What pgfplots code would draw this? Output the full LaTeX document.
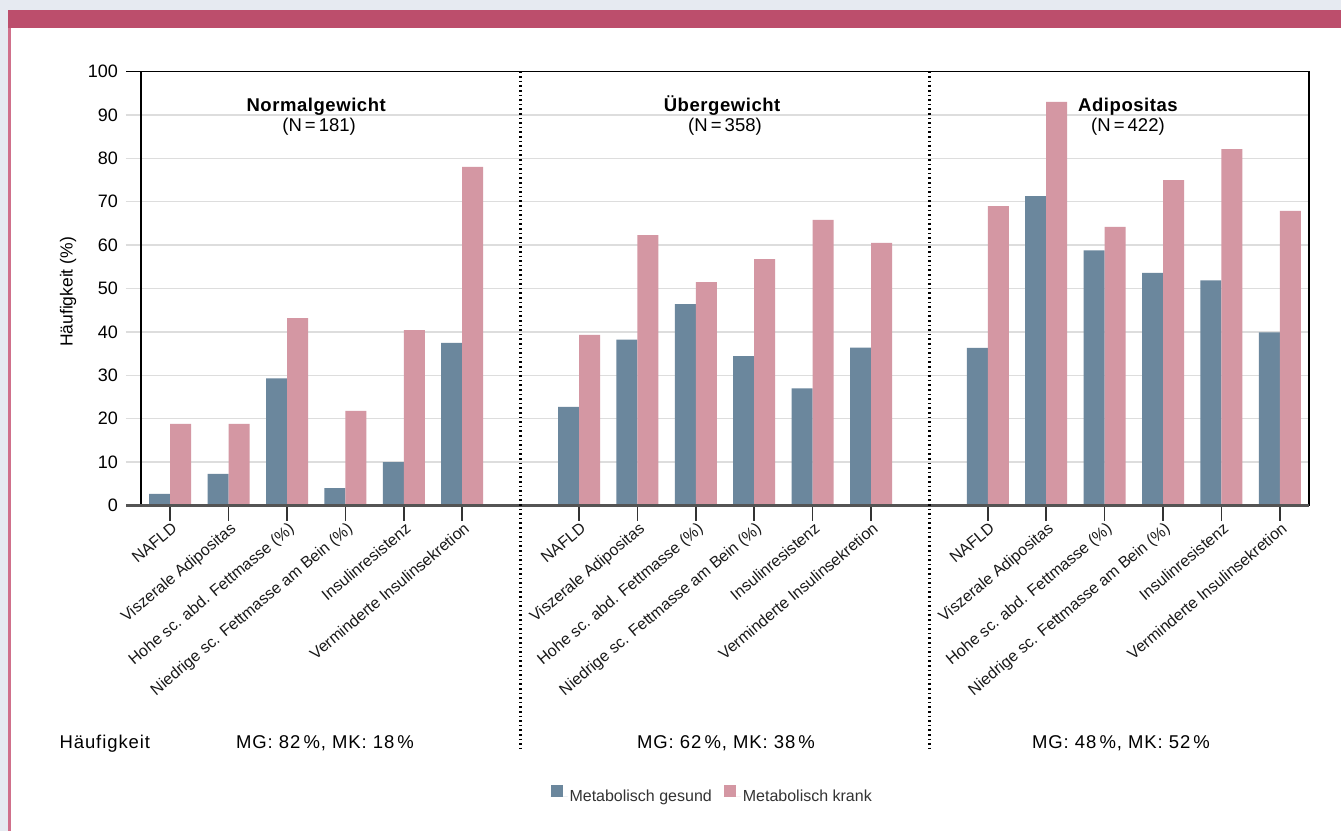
\documentclass[border=0pt]{standalone}
\usepackage{fontspec}
\setmainfont{Liberation Sans}
\newfontfamily\tracked[LetterSpace=3]{Liberation Sans}
\newfontfamily\trackedb[LetterSpace=5]{Liberation Sans}
\usepackage{pgfplots}
\pgfplotsset{compat=1.18}
\definecolor{bgc}{HTML}{E6EAF1}
\definecolor{mag}{HTML}{BC4E6C}
\definecolor{pline}{HTML}{D0708B}
\definecolor{mgblue}{HTML}{6B879D}
\definecolor{mkpink}{HTML}{D497A3}
\definecolor{gridc}{HTML}{DDDDDD}
\begin{document}
\begin{tikzpicture}
\useasboundingbox (0,0) rectangle (1341pt,-831pt);
\fill[bgc] (0,0) rectangle (1341pt,-831pt);
\fill[white] (11pt,-28pt) rectangle (1341pt,-831pt);
\fill[mag] (8pt,-10pt) rectangle (1341pt,-28pt);
\fill[pline] (8pt,-28pt) rectangle (11pt,-831pt);
\begin{axis}[
  at={(141pt,-505.5pt)}, anchor=south west,
  scale only axis, width=1168pt, height=434pt,
  xmin=-0.5, xmax=19.5, ymin=0, ymax=100,
  clip=false,
  ytick={0,10,...,100},
  xtick={0,1,2,3,4,5,7,8,9,10,11,12,14,15,16,17,18,19},
  xticklabels={NAFLD, Viszerale Adipositas, Hohe sc. abd. Fettmasse (\%), Niedrige sc. Fettmasse am Bein (\%), Insulinresistenz, Verminderte Insulinsekretion,
               NAFLD, Viszerale Adipositas, Hohe sc. abd. Fettmasse (\%), Niedrige sc. Fettmasse am Bein (\%), Insulinresistenz, Verminderte Insulinsekretion,
               NAFLD, Viszerale Adipositas, Hohe sc. abd. Fettmasse (\%), Niedrige sc. Fettmasse am Bein (\%), Insulinresistenz, Verminderte Insulinsekretion},
  tick align=outside, major tick length=15pt,
  xtick pos=bottom, ytick pos=left,
  ymajorgrids, grid style={gridc, line width=1.5pt},
  axis line style={black, line width=1.5pt},
  xtick style={color=black!80, line width=1.5pt},
  ytick style={color=gridc, line width=1.5pt},
  /pgf/number format/assume math mode=true,
  yticklabel style={font=\fontsize{18}{21}\selectfont, inner sep=0pt, anchor=east, xshift=-8pt},
  xticklabel style={font=\fontsize{16}{19}\selectfont, color=black!90, inner sep=0pt, rotate=40, anchor=north east, xshift=0pt, yshift=-1pt},
  legend style={at={(axis description cs:0.489,-0.667)}, anchor=center, draw=none, fill=none,
    legend columns=2, font=\fontsize{16}{19}\selectfont, text=black!80,
    /tikz/every even column/.append style={column sep=10pt}},
  legend image code/.code={\path (0pt,0pt) -- (17pt,0pt); \fill[#1] (0pt,-0.5pt) rectangle (12.5pt,12pt);},
]
\addplot[ybar, bar width=21pt, bar shift=-10.5pt, fill=mgblue, draw=none] coordinates {
 (0,2.7) (1,7.3) (2,29.3) (3,4.0) (4,10.0) (5,37.5)
 (7,22.7) (8,38.2) (9,46.4) (10,34.4) (11,27.0) (12,36.4)
 (14,36.3) (15,71.3) (16,58.8) (17,53.6) (18,51.9) (19,39.9)};
\addlegendentry{Metabolisch gesund}
\addplot[ybar, bar width=21pt, bar shift=10.5pt, fill=mkpink, draw=none] coordinates {
 (0,18.8) (1,18.8) (2,43.2) (3,21.8) (4,40.4) (5,78.0)
 (7,39.3) (8,62.3) (9,51.5) (10,56.8) (11,65.8) (12,60.5)
 (14,69.0) (15,93.0) (16,64.2) (17,75.0) (18,82.1) (19,67.9)};
\addlegendentry{Metabolisch krank}
\draw[black!67, line width=2.5pt] ([xshift=-15pt]axis cs:-0.5,0) -- (axis cs:19.5,0);
\draw[black, line width=1.5pt] ([xshift=-15pt]axis cs:-0.5,100) -- (axis cs:-0.5,100);
\draw[black, line width=2.4pt, dash pattern=on 1.6pt off 3pt] (axis cs:6,100) -- ([yshift=-244.5pt]axis cs:6,0);
\draw[black, line width=2.4pt, dash pattern=on 1.6pt off 3pt] (axis cs:13,100) -- ([yshift=-244.5pt]axis cs:13,0);
\node[anchor=base, font=\tracked\bfseries\fontsize{18.5}{21}\selectfont] at (axis cs:2.5,90.9) {Normalgewicht};
\node[anchor=base, font=\fontsize{18.5}{21}\selectfont] at (axis cs:2.55,86.2) {(N\,=\,181)};
\node[anchor=base, font=\tracked\bfseries\fontsize{18.5}{21}\selectfont] at (axis cs:9.45,90.9) {Übergewicht};
\node[anchor=base, font=\fontsize{18.5}{21}\selectfont] at (axis cs:9.5,86.2) {(N\,=\,358)};
\node[anchor=base, font=\tracked\bfseries\fontsize{18.5}{21}\selectfont] at (axis cs:16.4,90.9) {Adipositas};
\node[anchor=base, font=\fontsize{18.5}{21}\selectfont] at (axis cs:16.4,86.2) {(N\,=\,422)};
\end{axis}
\node[rotate=90, anchor=base, font=\fontsize{17.5}{20}\selectfont] at (72.7pt,-292pt) {Häufigkeit (\%)};
\node[anchor=base west, font=\trackedb\fontsize{18.5}{21}\selectfont] at (56pt,-748pt) {Häufigkeit};
\node[anchor=base, font=\trackedb\fontsize{18.5}{21}\selectfont] at (325pt,-748pt) {MG: 82\,\%, MK: 18\,\%};
\node[anchor=base, font=\trackedb\fontsize{18.5}{21}\selectfont] at (726pt,-748pt) {MG: 62\,\%, MK: 38\,\%};
\node[anchor=base, font=\trackedb\fontsize{18.5}{21}\selectfont] at (1121pt,-748pt) {MG: 48\,\%, MK: 52\,\%};
\end{tikzpicture}
\end{document}
